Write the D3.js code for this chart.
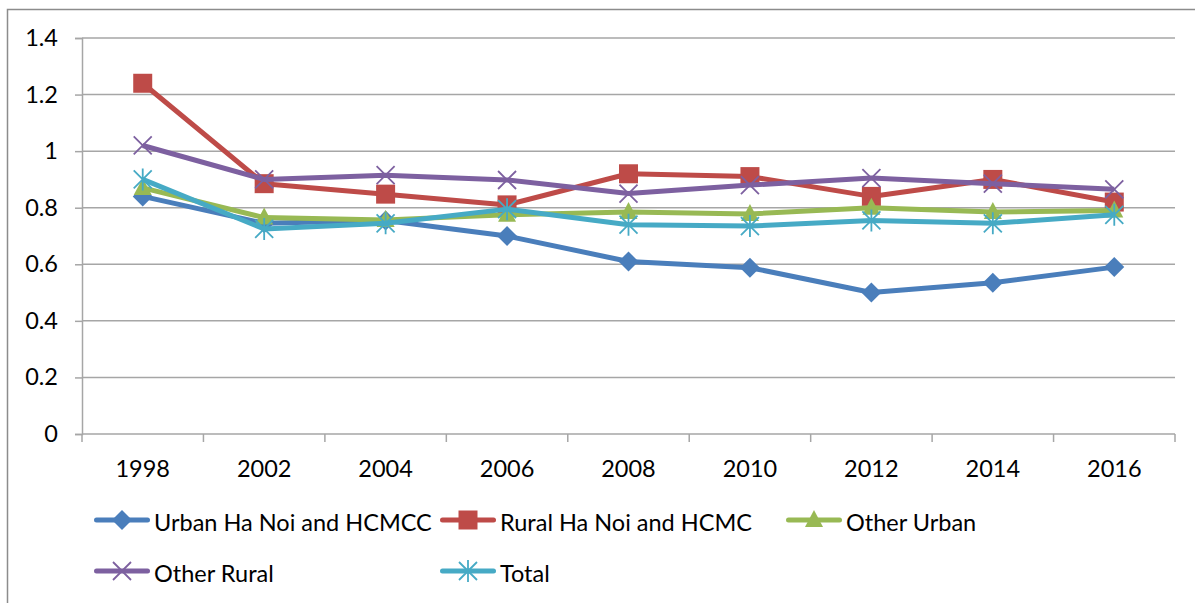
<!DOCTYPE html>
<html>
<head>
<meta charset="utf-8">
<script src="https://cdn.jsdelivr.net/npm/d3@7"></script>
<style>
  body { margin: 0; background: #fff; }
  text { font-family: Lato, "Open Sans", sans-serif; fill: #000; }
</style>
</head>
<body>
<div id="chart"></div>
<script>
var years = ["1998", "2002", "2004", "2006", "2008", "2010", "2012", "2014", "2016"];
var yTicks = [0, 0.2, 0.4, 0.6, 0.8, 1, 1.2, 1.4];

var urbanHanoi = [0.84, 0.745, 0.755, 0.70, 0.61, 0.588, 0.50, 0.535, 0.59];
var ruralHanoi = [1.24, 0.885, 0.848, 0.81, 0.92, 0.91, 0.84, 0.90, 0.82];
var otherUrban = [0.87, 0.765, 0.757, 0.775, 0.785, 0.778, 0.80, 0.785, 0.79];
var otherRural = [1.02, 0.90, 0.915, 0.898, 0.85, 0.88, 0.905, 0.885, 0.865];
var total = [0.90, 0.725, 0.745, 0.795, 0.74, 0.735, 0.755, 0.745, 0.775];

var seriesNames = ["Urban Ha Noi and HCMCC", "Rural Ha Noi and HCMC", "Other Urban", "Other Rural", "Total"];
var seriesColors = ["#4a7ebb", "#be4b48", "#98b954", "#7d60a0", "#46aac5"];
var seriesMarkers = ["diamond", "square", "triangle", "x", "star"];

var series = [urbanHanoi, ruralHanoi, otherUrban, otherRural, total].map(function(vals, i) {
  return { name: seriesNames[i], color: seriesColors[i], marker: seriesMarkers[i], values: vals };
});

var svgWidth = 1195;
var svgHeight = 603;
var margin = { top: 38, right: 20, bottom: 169, left: 82 };
var width = 1175 - margin.left;
var height = 434 - margin.top;

var svg = d3.select("#chart")
  .append("svg")
  .attr("width", svgWidth)
  .attr("height", svgHeight);

// chart border
svg.append("rect")
  .attr("x", 7.5).attr("y", 9.5)
  .attr("width", svgWidth).attr("height", svgHeight)
  .attr("fill", "none")
  .attr("stroke", "#8c8c8c")
  .attr("stroke-width", 1.5);

var chartGroup = svg.append("g")
  .attr("transform", `translate(${margin.left}, ${margin.top})`);

var xScale = d3.scaleBand()
  .domain(years)
  .range([0, width]);

var yScale = d3.scaleLinear()
  .domain([0, 1.4])
  .range([height, 0]);

// gridlines
chartGroup.append("g")
  .selectAll("line")
  .data(yTicks.slice(1))
  .enter()
  .append("line")
  .attr("x1", 0).attr("x2", width)
  .attr("y1", d => yScale(d)).attr("y2", d => yScale(d))
  .attr("stroke", "#a6a6a6")
  .attr("stroke-width", 1.5);

// y axis
var leftAxis = d3.axisLeft(yScale)
  .tickValues(yTicks)
  .tickSize(7)
  .tickPadding(17)
  .tickFormat(d => d3.format("")(+d.toFixed(1)));

var yAxisG = chartGroup.append("g").call(leftAxis);
yAxisG.selectAll("text").attr("font-size", "23.5px").attr("font-family", "Lato");

// x axis: ticks on category boundaries
var xAxisG = chartGroup.append("g")
  .attr("transform", `translate(0, ${height})`);
xAxisG.append("line")
  .attr("x1", 0).attr("x2", width)
  .attr("stroke", "#a6a6a6").attr("stroke-width", 1.5);
xAxisG.selectAll("line.tick")
  .data(years.concat(["end"]))
  .enter()
  .append("line")
  .attr("class", "tick")
  .attr("x1", (d, i) => i * xScale.step()).attr("x2", (d, i) => i * xScale.step())
  .attr("y1", 0).attr("y2", 8)
  .attr("stroke", "#a6a6a6").attr("stroke-width", 1.5);
xAxisG.selectAll("text")
  .data(years)
  .enter()
  .append("text")
  .attr("x", d => xScale(d) + xScale.bandwidth() / 2)
  .attr("y", 43)
  .attr("text-anchor", "middle")
  .attr("font-size", "23.5px")
  .text(d => d);

yAxisG.select(".domain").attr("stroke", "#a6a6a6").attr("stroke-width", 1.5);
yAxisG.selectAll(".tick line").attr("stroke", "#a6a6a6").attr("stroke-width", 1.5);

function markerPath(type) {
  if (type === "diamond") return "M0,-10L10,0L0,10L-10,0Z";
  if (type === "square") return "M-9.5,-9.5H9.5V9.5H-9.5Z";
  if (type === "triangle") return "M0,-10L9,7H-9Z";
  if (type === "x") return "M-9,-9L9,9M-9,9L9,-9";
  if (type === "star") return "M-9,-9L9,9M-9,9L9,-9M0,-11V11";
  return "";
}
function markerStyle(sel, d) {
  var stroked = d.marker === "x" || d.marker === "star";
  sel.attr("fill", stroked ? "none" : d.color)
    .attr("stroke", d.color)
    .attr("stroke-width", stroked ? 1.8 : 0);
}

var line = d3.line()
  .x((d, i) => xScale(years[i]) + xScale.bandwidth() / 2)
  .y(d => yScale(d));

var seriesG = chartGroup.selectAll("g.series")
  .data(series)
  .enter()
  .append("g")
  .attr("class", "series");

seriesG.append("path")
  .attr("d", d => line(d.values))
  .attr("fill", "none")
  .attr("stroke", d => d.color)
  .attr("stroke-width", 5)
  .attr("stroke-linejoin", "round");

seriesG.each(function(s) {
  d3.select(this).selectAll("path.marker")
    .data(s.values)
    .enter()
    .append("path")
    .attr("class", "marker")
    .attr("transform", (d, i) => `translate(${xScale(years[i]) + xScale.bandwidth() / 2}, ${yScale(d)})`)
    .attr("d", markerPath(s.marker))
    .call(markerStyle, s);
});

// legend
var legendPos = [[94, 520], [440, 520], [786, 520], [94, 571], [440, 571]];
var legend = svg.selectAll("g.legend")
  .data(series)
  .enter()
  .append("g")
  .attr("class", "legend")
  .attr("transform", (d, i) => `translate(${legendPos[i][0]}, ${legendPos[i][1]})`);

legend.append("line")
  .attr("x1", 2.5).attr("x2", 53.5)
  .attr("stroke", d => d.color)
  .attr("stroke-width", 5)
  .attr("stroke-linecap", "round");
legend.append("path")
  .attr("transform", "translate(28, 0)")
  .attr("d", d => markerPath(d.marker))
  .each(function(d) { d3.select(this).call(markerStyle, d); });
legend.append("text")
  .attr("x", 60)
  .attr("y", 11)
  .attr("font-size", "23.5px")
  .text(d => d.name);
</script>
</body>
</html>
